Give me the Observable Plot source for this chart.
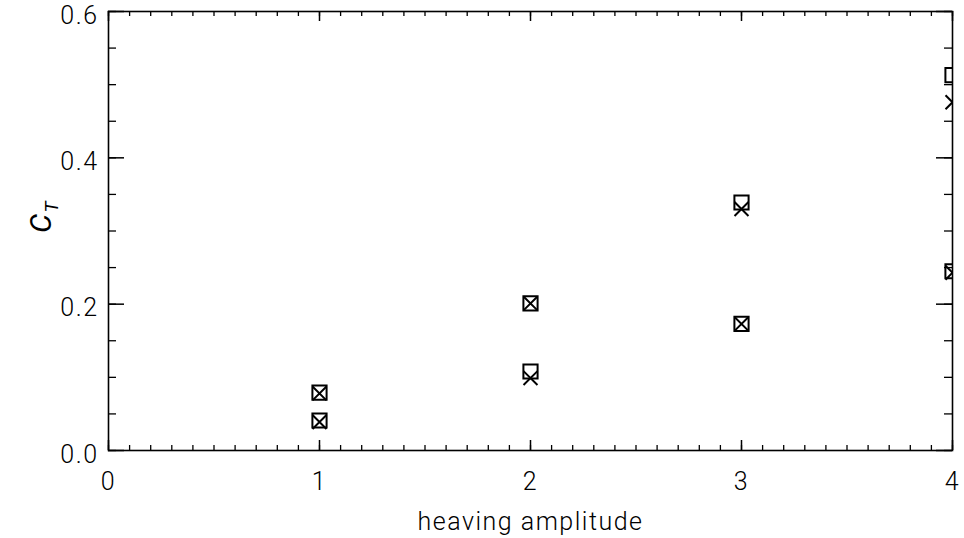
<!DOCTYPE html>
<html>
<head>
<meta charset="utf-8">
<script src="https://cdn.jsdelivr.net/npm/d3@7"></script>
<script src="https://cdn.jsdelivr.net/npm/@observablehq/plot@0.6"></script>
<style>
  html, body { margin: 0; padding: 0; background: #fff; }
  #chart svg { display: block; }
</style>
</head>
<body>
<div id="chart"></div>
<script>
// Thrust coefficient versus heaving amplitude, two computed series
const amplitude = [1, 1, 2, 2, 3, 3, 4, 4];
const ctSquare  = [0.079, 0.041, 0.201, 0.108, 0.339, 0.173, 0.513, 0.245];
const ctCross   = [0.078, 0.039, 0.201, 0.099, 0.330, 0.173, 0.476, 0.243];

const xMajor = [0, 1, 2, 3, 4];
const yMajor = [0.0, 0.2, 0.4, 0.6];
const xMinor = d3.ticks(0, 4, 40);
const yMinor = d3.ticks(0, 0.6, 12);

const xTitle = "heaving amplitude";

const W = 964, H = 538;
const mL = 108, mR = 12, mT = 11, mB = 88;
const innerW = W - mL - mR, innerH = H - mT - mB;

const squares = amplitude.map((a, i) => ({a, ct: ctSquare[i]}));
const crosses = amplitude.map((a, i) => ({a, ct: ctCross[i]}));

const font = "Roboto, 'DejaVu Sans', sans-serif";
const ink = "#000";

const chart = Plot.plot({
  width: W,
  height: H,
  marginLeft: mL,
  marginRight: mR,
  marginTop: mT,
  marginBottom: mB,
  style: {fontFamily: font, fontSize: "25px", fontWeight: 300, background: "#fff", color: ink, letterSpacing: "1.5px"},
  x: {domain: [0, 4], axis: null},
  y: {domain: [0, 0.6], axis: null},
  marks: [
    // inward ticks on bottom and top edges
    Plot.tickX(xMinor, {x: d => d, insetTop: innerH - 5, stroke: ink, strokeWidth: 1.3}),
    Plot.tickX(xMinor, {x: d => d, insetBottom: innerH - 5, stroke: ink, strokeWidth: 1.3}),
    Plot.tickX(xMajor, {x: d => d, insetTop: innerH - 10, stroke: ink, strokeWidth: 1.5}),
    Plot.tickX(xMajor, {x: d => d, insetBottom: innerH - 10, stroke: ink, strokeWidth: 1.5}),
    // inward ticks on left and right edges
    Plot.tickY(yMinor, {y: d => d, insetRight: innerW - 8, stroke: ink, strokeWidth: 1.3}),
    Plot.tickY(yMinor, {y: d => d, insetLeft: innerW - 8, stroke: ink, strokeWidth: 1.3}),
    Plot.tickY(yMajor, {y: d => d, insetRight: innerW - 16, stroke: ink, strokeWidth: 1.5}),
    Plot.tickY(yMajor, {y: d => d, insetLeft: innerW - 16, stroke: ink, strokeWidth: 1.5}),
    // tick labels
    Plot.axisX(xMajor, {anchor: "bottom", tickSize: 0, tickPadding: 22, tickFormat: d => String(d), label: null}),
    Plot.axisY(yMajor, {anchor: "left", tickSize: 0, tickPadding: 10, dy: 4, tickFormat: d3.format(".1f"), label: null}),
    // axis titles
    Plot.text([xTitle], {text: d => d, frameAnchor: "bottom", dy: 71, lineAnchor: "middle"}),
    Plot.text(["C"], {text: d => d, frameAnchor: "left", dx: -67, dy: 2, rotate: -90, fontStyle: "italic", fontWeight: 400, lineAnchor: "middle", fontSize: 30}),
    // data markers
    Plot.dot(squares, {x: "a", y: "ct", symbol: "square", r: 8, stroke: ink, strokeWidth: 2, fill: "none", clip: true}),
    Plot.dot(crosses, {x: "a", y: "ct", symbol: "times", r: 6.4, stroke: ink, strokeWidth: 2, clip: true}),
    Plot.frame({stroke: ink, strokeWidth: 1.6})
  ]
});

// subscript T on the y title
d3.select(chart).selectAll("text").filter(function () { return this.textContent === "C"; })
  .append("tspan")
  .attr("font-size", 19)
  .attr("dy", "0.35em")
  .attr("font-style", "italic")
  .text("T");

document.getElementById("chart").appendChild(chart);
</script>
</body>
</html>
